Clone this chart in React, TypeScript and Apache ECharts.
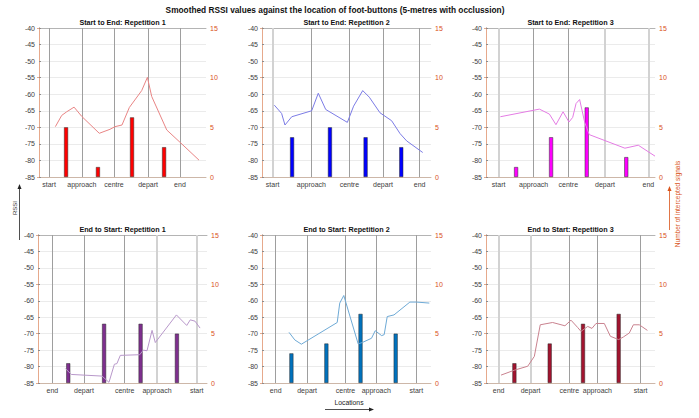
import React, { useEffect, useRef } from 'react';
import * as echarts from 'echarts';

// ---------- data ----------
const topLocations = ['start', 'approach', 'centre', 'depart', 'end'];
const bottomLocations = ['end', 'depart', 'centre', 'approach', 'start'];

const panelTitles = [
  'Start to End: Repetition 1',
  'Start to End: Repetition 2',
  'Start to End: Repetition 3',
  'End to Start: Repetition 1',
  'End to Start: Repetition 2',
  'End to Start: Repetition 3',
];

// positions of foot-buttons (location markers) along the walk (0-100)
const p1Markers = [6.0, 25.7, 44.9, 65.3, 84.4];
const p2Markers = [6.3, 29.2, 51.7, 71.6, 93.3];
const p3Markers = [7.5, 28.2, 48.7, 70.4, 96.1];
const p4Markers = [8.5, 27.2, 51.3, 70.4, 93.9];
const p5Markers = [8.1, 26.7, 49.4, 67.6, 91.3];
const p6Markers = [7.5, 26.4, 49.3, 65.9, 91.5];

// bar positions and number of intercepted signals
const p1BarPos = [16.2, 35.3, 55.7, 74.9];
const p1Counts = [5, 1, 6, 3];
const p2BarPos = [17.8, 40.2, 61.3, 82.4];
const p2Counts = [4, 5, 4, 3];
const p3BarPos = [17.8, 38.5, 59.6, 83.0];
const p3Counts = [1, 4, 7, 2];
const p4BarPos = [17.9, 39.1, 60.7, 82.2];
const p4Counts = [2, 6, 6, 5];
const p5BarPos = [17.4, 38.1, 58.3, 79.1];
const p5Counts = [3, 4, 7, 5];
const p6BarPos = [16.8, 37.7, 57.4, 78.5];
const p6Counts = [2, 4, 6, 7];

// smoothed RSSI traces
const p1X = [9.8, 13.6, 16.6, 21.0, 25.6, 36.1, 42.5, 45.5, 49.7, 54.1, 61.5, 64.9, 67.5, 76.5, 84.4, 95.8];
const p1Rssi = [-69.8, -66.4, -65.3, -63.9, -66.7, -71.8, -70.6, -69.8, -69.3, -64.0, -58.9, -54.9, -60.7, -70.8, -74.5, -79.9];

const p2X = [7.3, 11.6, 13.6, 17.6, 29.4, 33.3, 37.7, 50.5, 54.2, 59.6, 63.5, 69.8, 76.7, 81.7, 85.6, 95.1];
const p2Rssi = [-63.3, -65.8, -69.3, -66.8, -65.0, -59.7, -64.6, -68.5, -63.6, -58.9, -60.9, -65.6, -68.0, -71.9, -74.1, -77.6];

const p3X = [8.5, 31.6, 37.5, 41.4, 45.6, 49.1, 51.3, 53.3, 55.4, 58.4, 61.1, 82.2, 90.1, 100];
const p3Rssi = [-66.8, -64.5, -66.0, -69.2, -65.3, -68.4, -67.0, -62.8, -61.6, -68.5, -72.2, -76.3, -75.4, -78.7];

const p4X = [16.2, 19.7, 37.9, 42.0, 45.2, 46.7, 48.7, 60.2, 62.3, 64.5, 67.5, 69.4, 81.9, 88.0, 90.1, 92.9, 95.9];
const p4Rssi = [-80.6, -82.4, -82.9, -84.8, -79.3, -79.1, -76.6, -76.4, -75.0, -75.2, -69.0, -72.7, -64.3, -67.5, -65.8, -66.2, -68.3];

const p5X = [16.0, 19.4, 23.3, 44.5, 46.0, 48.4, 56.9, 59.3, 64.8, 67.0, 70.8, 72.3, 74.1, 78.1, 87.5, 91.5, 99.0];
const p5Rssi = [-69.6, -71.9, -73.2, -66.6, -60.7, -58.4, -73.1, -72.7, -71.4, -69.1, -70.6, -70.3, -64.8, -64.3, -60.4, -60.4, -60.7];

const p6X = [8.9, 16.8, 24.7, 28.6, 32.1, 39.4, 46.7, 50.3, 54.2, 56.2, 60.2, 62.7, 65.1, 70.0, 73.6, 78.5, 81.3, 84.8, 87.2, 90.7, 95.5];
const p6Rssi = [-82.6, -81.1, -79.9, -76.9, -67.3, -66.6, -67.6, -65.9, -68.1, -69.3, -67.8, -68.4, -66.9, -66.9, -70.8, -71.8, -71.0, -69.8, -67.3, -67.3, -69.0];

const rssiTicks = { min: -85, max: -40, step: 5 };
const countTicks = { min: 0, max: 15, step: 5 };

// ---------- styles / layout ----------
const FONT = '"Liberation Sans", Arial, Helvetica, sans-serif';
const ORANGE = '#D95319';
const grids = [
  { left: 39, top: 28, width: 167, height: 149 },
  { left: 262, top: 28, width: 169, height: 149 },
  { left: 486, top: 28, width: 169, height: 149 },
  { left: 38, top: 235, width: 169, height: 148 },
  { left: 262, top: 235, width: 169, height: 148 },
  { left: 486, top: 235, width: 169, height: 148 },
];
const barColors = ['#FF0000', '#0000FF', '#FF00FF', '#7E2F8E', '#0072BD', '#A2142F'];
const lineColors = ['#E98585', '#7C7CE6', '#E47CE4', '#B898CA', '#6EAAD6', '#C9828F'];
// shade of each location marker line: d = dark thin, l = light thick
const markerShades = [
  ['d', 'd', 'd', 'd', 'd'],
  ['l', 'd', 'd', 'd', 'd'],
  ['l', 'd', 'd', 'l', 'l'],
  ['d', 'd', 'd', 'l', 'l'],
  ['d', 'd', 'd', 'd', 'd'],
  ['l', 'l', 'd', 'd', 'd'],
];

const panels = [
  { markers: p1Markers, names: topLocations, barPos: p1BarPos, counts: p1Counts, x: p1X, y: p1Rssi },
  { markers: p2Markers, names: topLocations, barPos: p2BarPos, counts: p2Counts, x: p2X, y: p2Rssi },
  { markers: p3Markers, names: topLocations, barPos: p3BarPos, counts: p3Counts, x: p3X, y: p3Rssi },
  { markers: p4Markers, names: bottomLocations, barPos: p4BarPos, counts: p4Counts, x: p4X, y: p4Rssi },
  { markers: p5Markers, names: bottomLocations, barPos: p5BarPos, counts: p5Counts, x: p5X, y: p5Rssi },
  { markers: p6Markers, names: bottomLocations, barPos: p6BarPos, counts: p6Counts, x: p6X, y: p6Rssi },
];

function arrowHead(tipX: number, tipY: number, dir: 'up' | 'right', color: string) {
  const pts =
    dir === 'up'
      ? [[tipX, tipY], [tipX - 2, tipY + 5], [tipX + 2, tipY + 5]]
      : [[tipX, tipY], [tipX - 5, tipY - 2], [tipX - 5, tipY + 2]];
  return { type: 'polygon', silent: true, shape: { points: pts }, style: { fill: color } };
}

function buildOption() {
  const xAxis: any[] = [];
  const yAxis: any[] = [];
  const series: any[] = [];
  const graphic: any[] = [];

  panels.forEach((p, i) => {
    xAxis.push({
      type: 'value',
      gridIndex: i,
      min: 0,
      max: 100,
      axisLine: { show: true, onZero: false, lineStyle: { color: '#cdb7a8', width: 1 } },
      axisTick: { show: false },
      splitLine: { show: false },
      axisLabel: {
        customValues: p.markers,
        formatter: (v: number) => {
          const k = p.markers.findIndex((m) => Math.abs(m - v) < 1e-6);
          return k >= 0 ? p.names[k] : '';
        },
        fontSize: 7,
        fontFamily: FONT,
        color: '#404040',
        margin: 4,
      },
    });
    yAxis.push({
      type: 'value',
      gridIndex: i,
      position: 'left',
      min: rssiTicks.min,
      max: rssiTicks.max,
      interval: rssiTicks.step,
      axisLine: { show: true, lineStyle: { color: '#8c8c8c', width: 1 } },
      axisTick: { show: true, inside: true, length: 2, lineStyle: { color: '#8c8c8c' } },
      axisLabel: { fontSize: 7, fontFamily: FONT, color: '#404040', margin: 4 },
      splitLine: { show: true, lineStyle: { color: '#ebebeb', width: 1 } },
    });
    yAxis.push({
      type: 'value',
      gridIndex: i,
      position: 'right',
      min: countTicks.min,
      max: countTicks.max,
      interval: countTicks.step,
      axisLine: { show: true, lineStyle: { color: '#e6a98c', width: 1 } },
      axisTick: { show: true, inside: true, length: 2, lineStyle: { color: '#e6a98c' } },
      axisLabel: { fontSize: 7, fontFamily: FONT, color: ORANGE, margin: 4 },
      splitLine: { show: false },
    });

    series.push({
      type: 'line',
      xAxisIndex: i,
      yAxisIndex: 2 * i,
      data: [],
      silent: true,
      z: 1,
      markLine: {
        silent: true,
        symbol: ['none', 'none'],
        z: 1,
        label: { show: false },
        data: p.markers.map((m, k) => ({
          xAxis: m,
          lineStyle:
            markerShades[i][k] === 'l'
              ? { color: '#d2d2d2', width: 2, type: 'solid' }
              : { color: '#9e9e9e', width: 1, type: 'solid' },
        })),
      },
    });
    series.push({
      type: 'bar',
      xAxisIndex: i,
      yAxisIndex: 2 * i + 1,
      barWidth: 4,
      z: 2,
      data: p.barPos.map((x, k) => [x, p.counts[k]]),
      itemStyle: { color: barColors[i], borderColor: '#2a2a2a', borderWidth: 0.5 },
    });
    series.push({
      type: 'line',
      xAxisIndex: i,
      yAxisIndex: 2 * i,
      z: 3,
      showSymbol: false,
      symbol: 'none',
      data: p.x.map((x, k) => [x, p.y[k]]),
      lineStyle: { color: lineColors[i], width: 1 },
    });

    const g = grids[i];
    graphic.push({
      type: 'text',
      x: g.left + g.width / 2,
      y: g.top - 6,
      silent: true,
      style: {
        text: panelTitles[i],
        font: `bold 7.2px ${FONT}`,
        fill: '#111',
        textAlign: 'center',
        textVerticalAlign: 'middle',
      },
    });
  });

  // top borders
  panels.forEach((_, i) => {
    xAxis.push({
      type: 'value',
      gridIndex: i,
      position: 'top',
      min: 0,
      max: 100,
      axisLine: { show: true, onZero: false, lineStyle: { color: '#b4b4b4', width: 1 } },
      axisTick: { show: false },
      axisLabel: { show: false },
      splitLine: { show: false },
    });
  });

  graphic.push(
    {
      type: 'text',
      x: 335,
      y: 10,
      silent: true,
      style: {
        text: 'Smoothed RSSI values against the location of foot-buttons (5-metres with occlussion)',
        font: `bold 8.3px ${FONT}`,
        fill: '#111',
        textAlign: 'center',
        textVerticalAlign: 'middle',
      },
    },
    {
      type: 'text',
      x: 14.5,
      y: 208,
      rotation: Math.PI / 2,
      silent: true,
      style: { text: 'RSSI', font: `6px ${FONT}`, fill: '#333', textAlign: 'center', textVerticalAlign: 'middle' },
    },
    { type: 'line', silent: true, shape: { x1: 19.5, y1: 240, x2: 19.5, y2: 188 }, style: { stroke: '#222', lineWidth: 0.8 } },
    arrowHead(19.5, 184, 'up', '#222'),
    {
      type: 'text',
      x: 677.5,
      y: 204,
      rotation: Math.PI / 2,
      silent: true,
      style: {
        text: 'Number of intercepted signals',
        font: `6.5px ${FONT}`,
        fill: ORANGE,
        textAlign: 'center',
        textVerticalAlign: 'middle',
      },
    },
    { type: 'line', silent: true, shape: { x1: 669.5, y1: 230, x2: 669.5, y2: 190 }, style: { stroke: ORANGE, lineWidth: 0.8 } },
    arrowHead(669.5, 186, 'up', ORANGE),
    {
      type: 'text',
      x: 349,
      y: 402,
      silent: true,
      style: { text: 'Locations', font: `6.8px ${FONT}`, fill: '#222', textAlign: 'center', textVerticalAlign: 'middle' },
    },
    { type: 'line', silent: true, shape: { x1: 325, y1: 409.5, x2: 369, y2: 409.5 }, style: { stroke: '#222', lineWidth: 0.8 } },
    arrowHead(374, 409.5, 'right', '#222')
  );

  return {
    animation: false,
    backgroundColor: '#ffffff',
    grid: grids.map((g) => ({ ...g, containLabel: false })),
    xAxis,
    yAxis,
    series,
    graphic,
  };
}

export default function App() {
  const ref = useRef<HTMLDivElement>(null);
  useEffect(() => {
    if (!ref.current) return;
    const chart = echarts.init(ref.current, undefined, { renderer: 'svg' });
    chart.setOption(buildOption() as any);
    return () => chart.dispose();
  }, []);
  return (
    <div
      ref={ref}
      style={{ position: 'fixed', left: 0, top: 0, width: 699, height: 418, background: '#fff' }}
    />
  );
}
